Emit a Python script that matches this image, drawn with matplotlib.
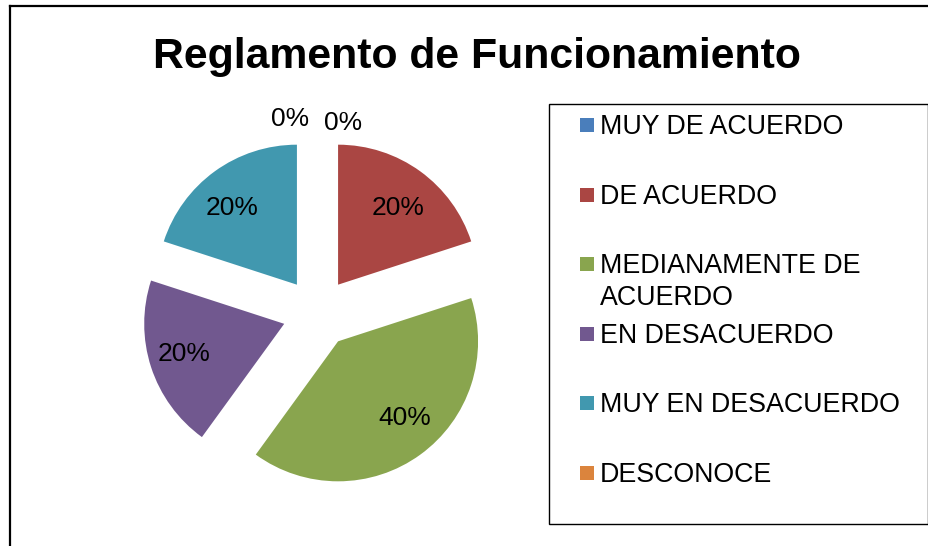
import numpy as np
import matplotlib
matplotlib.use("Agg")
from matplotlib import pyplot as plt
from matplotlib.patches import Rectangle
from matplotlib.lines import Line2D

plt.rcParams['font.family'] = ['Liberation Sans', 'DejaVu Sans']

title = 'Reglamento de Funcionamiento'
categories = ['MUY DE ACUERDO', 'DE ACUERDO', 'MEDIANAMENTE DE\nACUERDO',
              'EN DESACUERDO', 'MUY EN DESACUERDO', 'DESCONOCE']
values = [0, 20, 40, 20, 20, 0]
colors = ['#4A7EBB', '#AA4643', '#89A54E', '#71588F', '#4198AF', '#DB843D']

W, H = 929, 546
fig = plt.figure(figsize=(W / 100, H / 100), dpi=100)

# pie axes: radius 1 -> 140 px, centre at (317.5, 313) px from top-left
R = 140.0
cx, cy = 317.5, 313.0
half = 200.0
ax = fig.add_axes([(cx - half) / W, (H - cy - half) / H, 2 * half / W, 2 * half / H])
wedges, texts, autotexts = ax.pie(values, colors=colors, startangle=90, counterclock=False,
                                  explode=[0.25] * len(values), autopct='%1.0f%%',
                                  pctdistance=0.72, radius=1.0,
                                  textprops={'fontsize': 19, 'color': 'black'})
ax.set_xlim(-half / R, half / R)
ax.set_ylim(-half / R, half / R)
ax.set_aspect('equal')
ax.axis('off')

# small pixel nudges of the percent labels (excel's placement)
nudges = {1: (1, 5), 2: (7, -5), 3: (-4, -1), 4: (-6, 5)}
for i, (dx, dy) in nudges.items():
    x, y = autotexts[i].get_position()
    autotexts[i].set_position((x + dx / R, y - dy / R))
# zero slices: labels pushed above the pie so they do not overlap
autotexts[0].set_position((0.182, 1.36))
autotexts[-1].set_position((-0.196, 1.385))
for t in autotexts:
    t.set_clip_on(False)

fig.text(477 / W, 1 - 68 / H, title, fontsize=30.8, fontweight='bold',
         ha='center', va='baseline')

# chart frame (left and top edges visible)
fig.add_artist(Line2D([10 / W, 10 / W], [0, 1 - 6 / H], color='black', lw=1.6))
fig.add_artist(Line2D([10 / W, 1], [1 - 6 / H, 1 - 6 / H], color='black', lw=1.6))

# legend box
fig.add_artist(Rectangle((549 / W, 1 - 524 / H), (928 - 549) / W, (524 - 104) / H,
                         transform=fig.transFigure, fill=False, ec='black', lw=1.0))
for i, (lab, col) in enumerate(zip(categories, colors)):
    yc = 125 + i * 69.6
    fig.add_artist(Rectangle((580 / W, 1 - (yc + 7) / H), 14 / W, 14 / H,
                             transform=fig.transFigure, fc=col, ec='none'))
    fig.text(600 / W, 1 - (yc - 11) / H, lab, fontsize=19.3, ha='left', va='top',
             linespacing=1.3)

fig.savefig('out.png', dpi=100)
